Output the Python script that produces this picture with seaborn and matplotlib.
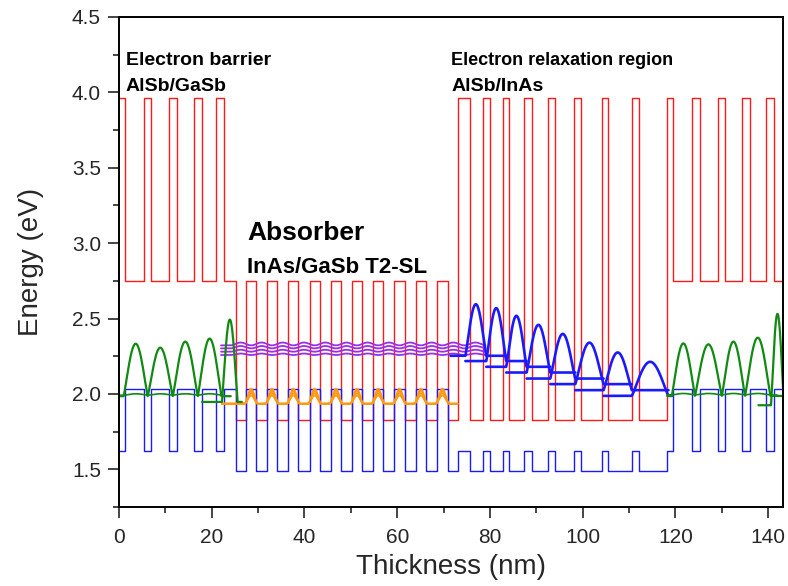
import numpy as np
import pandas as pd
import matplotlib
matplotlib.use("Agg")
import matplotlib.pyplot as plt
import seaborn as sns
from matplotlib.ticker import MultipleLocator

# ---------------------------------------------------------------------------
# Layer stack: boundaries (nm) and material of each layer
# ---------------------------------------------------------------------------
layer_edges = [
    0.0, 1.4, 5.4, 7.0, 10.8, 12.5, 16.2, 17.8, 21.0, 22.7, 25.3,
    27.4, 29.6, 31.9, 34.1, 36.5, 38.7, 41.1, 43.3, 45.7, 47.9,
    50.2, 52.4, 54.8, 57.0, 59.4, 61.6, 64.0, 66.2, 68.6, 70.9,
    73.2, 75.7, 78.5, 80.1, 82.8, 84.2, 87.3, 89.0, 92.5, 94.0,
    98.1, 99.6, 104.2, 105.5, 110.6, 112.1, 118.1,
    119.5, 123.6, 125.2, 129.1, 130.7, 134.4, 136.0, 139.6, 141.2, 143.4,
]
layer_material = (
    ["AlSb", "GaSb"] * 5
    + ["InAs", "GaSb"] * 10
    + ["InAs"] + ["AlSb", "InAs"] * 8
    + ["AlSb", "GaSb"] * 5
)

# band edge energies (eV) of each material
cb_level = {"AlSb": 3.96, "GaSb": 2.75, "InAs": 1.83}
vb_level = {"AlSb": 1.62, "GaSb": 2.03, "InAs": 1.49}

# hole states in the electron barrier (left) and at the right contact
green_left_base = 1.985
green_left_spans = [(1.0, 6.2), (6.2, 11.6), (11.6, 17.0), (17.0, 22.1)]
green_left_peaks = [2.333, 2.307, 2.347, 2.367]
green_left_edge = dict(x0=17.9, x1=26.5, base=1.947, span=(22.2, 25.6), peak=2.493)

green_right_base = 1.987
green_right_spans = [(119.2, 124.2), (124.2, 130.0), (130.0, 135.0), (135.0, 140.5)]
green_right_peaks = [2.335, 2.329, 2.347, 2.373]
green_right_edge = dict(x0=137.9, x1=143.4, base=1.925, span=(140.6, 143.4), peak=2.531)

# electron minibands of the absorber
purple_bases = [2.258, 2.280, 2.302, 2.322]
purple_amps = [0.010, 0.013, 0.016, 0.019]
purple_range = (22.0, 79.0)

# hole minibands of the absorber
orange_base = 1.935
orange_peaks = [1.990, 2.005, 2.020, 2.035]
orange_range = (22.2, 73.0)

# electron states of the relaxation region
blue_region_edges = [71.5, 74.7, 79.2, 83.5, 87.9, 93.0, 98.4, 104.5, 110.6, 118.5, 119.2]
blue_levels = [2.253, 2.218, 2.180, 2.142, 2.102, 2.065, 2.025, 1.987]
blue_peaks = [2.595, 2.569, 2.518, 2.458, 2.398, 2.340, 2.275, 2.213]


def band_profile(levels):
    xs, ys = [], []
    for i, m in enumerate(layer_material):
        xs += [layer_edges[i], layer_edges[i + 1]]
        ys += [levels[m], levels[m]]
    return pd.DataFrame({"x": xs, "E": ys})


def state_curve(x0, x1, base, spans, peaks, n=900, power=1.15):
    """Flat level with |psi|^2-like lobes inside the given spans."""
    x = np.linspace(x0, x1, n)
    y = np.full_like(x, base)
    for (a, b), p in zip(spans, peaks):
        t = (x - a) / (b - a)
        inside = (t >= 0) & (t <= 1)
        y[inside] += (p - base) * np.sin(np.pi * t[inside]) ** power
    return pd.DataFrame({"x": x, "E": y})


def layers_of(material, lo, hi):
    out = []
    for i, m in enumerate(layer_material):
        a, b = layer_edges[i], layer_edges[i + 1]
        if m == material and a >= lo and b <= hi:
            out.append(i)
    return out


def draw(ax, df, color, lw):
    sns.lineplot(data=df, x="x", y="E", ax=ax, color=color, lw=lw,
                 sort=False, estimator=None, legend=False)


sns.set_style("ticks")
plt.rcParams["font.family"] = ["Liberation Sans", "DejaVu Sans"]

fig = plt.figure(figsize=(7.88, 5.86), dpi=100)
ax = fig.add_axes([0.151, 0.1348, 0.8427, 0.8362])

RED, BLUE = "#ff1a1a", "#1a1aff"
GREEN, PURPLE, ORANGE = "#108a10", "#9a2ee8", "#ff9a10"

# band edges
draw(ax, band_profile(cb_level), RED, 1.0)
draw(ax, band_profile(vb_level), BLUE, 1.0)

# absorber hole minibands
ga_idx = layers_of("GaSb", 26.0, 72.0)
orange_spans = [(layer_edges[i] - 0.35, layer_edges[i + 1] + 0.35) for i in ga_idx]
for p in orange_peaks:
    draw(ax, state_curve(*orange_range, orange_base, orange_spans,
                         [p] * len(orange_spans), power=2.0), ORANGE, 1.3)

# absorber electron minibands
in_idx = layers_of("InAs", 25.0, 79.0)
purple_spans = [((layer_edges[i - 1] + layer_edges[i]) / 2,
                 (layer_edges[i + 1] + layer_edges[i + 2]) / 2) for i in in_idx]
for b, a in zip(purple_bases, purple_amps):
    draw(ax, state_curve(*purple_range, b, purple_spans,
                         [b + a] * len(purple_spans), power=2.0), PURPLE, 1.3)

# relaxation region states
for j, (lv, pk) in enumerate(zip(blue_levels, blue_peaks)):
    e = blue_region_edges
    draw(ax, state_curve(e[j], e[j + 3], lv, [(e[j + 1], e[j + 2])], [pk]), BLUE, 1.9)

# barrier hole states
for base, spans, peaks, edge, x0, x1 in [
    (green_left_base, green_left_spans, green_left_peaks, green_left_edge, 0.0, 24.1),
    (green_right_base, green_right_spans, green_right_peaks, green_right_edge, 118.2, 143.4),
]:
    draw(ax, state_curve(x0, x1 - 1.5, base + 0.006, spans,
                         [base + 0.016] * len(spans)), GREEN, 1.2)
    draw(ax, state_curve(x0, x1, base, spans, peaks), GREEN, 1.6)
    draw(ax, state_curve(edge["x0"], edge["x1"], edge["base"], [edge["span"]],
                         [edge["peak"]]), GREEN, 1.6)

# region labels
txt = dict(fontweight="bold", color="black", ha="left", va="center")
ax.text(1.5, 4.213, "Electron barrier", fontsize=14, **txt)
ax.text(1.5, 4.04, "AlSb/GaSb", fontsize=14, **txt)
ax.text(71.7, 4.213, "Electron relaxation region", fontsize=13, **txt)
ax.text(71.7, 4.04, "AlSb/InAs", fontsize=14, **txt)
ax.text(27.6, 3.067, "Absorber", fontsize=19, **txt)
ax.text(27.6, 2.84, "InAs/GaSb T2-SL", fontsize=16, **txt)

ax.set_xlim(0, 143.2)
ax.set_ylim(1.25, 4.5)
ax.xaxis.set_major_locator(MultipleLocator(20))
ax.xaxis.set_minor_locator(MultipleLocator(10))
ax.yaxis.set_major_locator(MultipleLocator(0.5))
ax.yaxis.set_minor_locator(MultipleLocator(0.25))
ax.yaxis.set_major_formatter(matplotlib.ticker.FormatStrFormatter("%.1f"))
ax.tick_params(which="major", direction="out", length=8, width=1.2, labelsize=15,
               top=False, right=False)
ax.tick_params(which="minor", direction="out", length=4.5, width=1.2,
               top=False, right=False)
ax.tick_params(axis="y", which="major", pad=5)
ax.tick_params(axis="x", which="major", pad=7)
for s in ax.spines.values():
    s.set_visible(True)
    s.set_linewidth(1.4)
    s.set_color("black")

ax.set_xlabel("Thickness (nm)", fontsize=20, labelpad=5)
ax.set_ylabel("Energy (eV)", fontsize=20, labelpad=20)

fig.savefig("out.png", dpi=100)
